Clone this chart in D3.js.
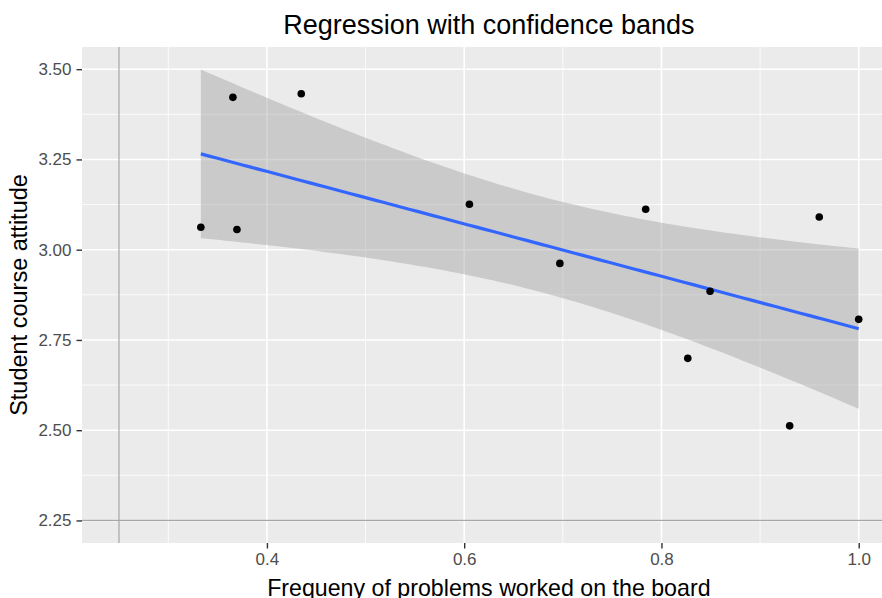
<!DOCTYPE html>
<html>
<head>
<meta charset="utf-8">
<script src="https://cdn.jsdelivr.net/npm/d3@7"></script>
<style>
  html, body { margin: 0; padding: 0; background: #fff; }
  svg { display: block; font-family: "Liberation Sans", Arial, sans-serif; }
</style>
</head>
<body>
<svg id="chart" width="882" height="598"></svg>
<script>
// Observations: share of problems worked on the board vs. course attitude
const boardFreq = [0.333, 0.3655, 0.3696, 0.4348, 0.6053, 0.697, 0.784, 0.8267, 0.8493, 0.930, 0.960, 1.000];
const attitude  = [3.062, 3.422, 3.056, 3.432, 3.126, 2.962, 3.112, 2.699, 2.885, 2.512, 3.0905, 2.807];

// Reference lines
const refX = [0.25];
const refY = [2.25];

// Axis ticks
const xTicks = [0.4, 0.6, 0.8, 1.0];
const xTickLabels = ["0.4", "0.6", "0.8", "1.0"];
const xMinorTicks = [0.3, 0.5, 0.7, 0.9];
const yTicks = [2.25, 2.50, 2.75, 3.00, 3.25, 3.50];
const yTickLabels = ["2.25", "2.50", "2.75", "3.00", "3.25", "3.50"];
const yMinorTicks = [2.375, 2.625, 2.875, 3.125, 3.375];

// Student t quantile for a 95% band with n - 2 = 10 degrees of freedom
const T_CRIT = 2.228139;

// ---- Ordinary least squares fit with pointwise confidence band ----
const n = boardFreq.length;
const mx = d3.mean(boardFreq), my = d3.mean(attitude);
let sxx = 0, sxy = 0;
for (let i = 0; i < n; i++) {
  sxx += (boardFreq[i] - mx) ** 2;
  sxy += (boardFreq[i] - mx) * (attitude[i] - my);
}
const slope = sxy / sxx;
const intercept = my - slope * mx;
let sse = 0;
for (let i = 0; i < n; i++) sse += (attitude[i] - (intercept + slope * boardFreq[i])) ** 2;
const sigma = Math.sqrt(sse / (n - 2));

const [x0, x1] = d3.extent(boardFreq);
const fit = d3.range(80).map(k => {
  const x = x0 + (x1 - x0) * k / 79;
  const yhat = intercept + slope * x;
  const se = sigma * Math.sqrt(1 / n + (x - mx) ** 2 / sxx);
  return { x, y: yhat, lo: yhat - T_CRIT * se, hi: yhat + T_CRIT * se };
});

// ---- Scales (5% expansion of the trained range) ----
function expand([a, b], f = 0.05) { const d = (b - a) * f; return [a - d, b + d]; }
const xDom = expand(d3.extent([...boardFreq, ...refX]));
const yDom = expand(d3.extent([...attitude, ...refY, ...fit.map(d => d.lo), ...fit.map(d => d.hi)]));

const panel = { left: 82, top: 47, right: 895.7, bottom: 543 };
const x = d3.scaleLinear().domain(xDom).range([panel.left, panel.right]);
const y = d3.scaleLinear().domain(yDom).range([panel.bottom, panel.top]);

const svg = d3.select("#chart");

// Panel background
svg.append("rect")
  .attr("x", panel.left).attr("y", panel.top)
  .attr("width", panel.right - panel.left).attr("height", panel.bottom - panel.top)
  .attr("fill", "#EBEBEB");

// Grid lines
const grid = svg.append("g");
grid.selectAll(".xminor").data(xMinorTicks).join("line")
  .attr("x1", d => x(d)).attr("x2", d => x(d))
  .attr("y1", panel.top).attr("y2", panel.bottom)
  .attr("stroke", "#fff").attr("stroke-width", 0.8);
grid.selectAll(".yminor").data(yMinorTicks).join("line")
  .attr("y1", d => y(d)).attr("y2", d => y(d))
  .attr("x1", panel.left).attr("x2", panel.right)
  .attr("stroke", "#fff").attr("stroke-width", 0.8);
grid.selectAll(".xmajor").data(xTicks).join("line")
  .attr("x1", d => x(d)).attr("x2", d => x(d))
  .attr("y1", panel.top).attr("y2", panel.bottom)
  .attr("stroke", "#fff").attr("stroke-width", 1.6);
grid.selectAll(".ymajor").data(yTicks).join("line")
  .attr("y1", d => y(d)).attr("y2", d => y(d))
  .attr("x1", panel.left).attr("x2", panel.right)
  .attr("stroke", "#fff").attr("stroke-width", 1.6);

// Reference lines
svg.selectAll(".vref").data(refX).join("line")
  .attr("x1", d => x(d)).attr("x2", d => x(d))
  .attr("y1", panel.top).attr("y2", panel.bottom)
  .attr("stroke", "#A6A6A6").attr("stroke-width", 1.2);
svg.selectAll(".href").data(refY).join("line")
  .attr("y1", d => y(d)).attr("y2", d => y(d))
  .attr("x1", panel.left).attr("x2", panel.right)
  .attr("stroke", "#A6A6A6").attr("stroke-width", 1.2);

// Confidence band
svg.append("path")
  .datum(fit)
  .attr("d", d3.area().x(d => x(d.x)).y0(d => y(d.lo)).y1(d => y(d.hi)))
  .attr("fill", "#999999").attr("fill-opacity", 0.4);

// Fitted line
svg.append("path")
  .datum(fit)
  .attr("d", d3.line().x(d => x(d.x)).y(d => y(d.y)))
  .attr("fill", "none").attr("stroke", "#3366FF").attr("stroke-width", 3.2);

// Points
svg.selectAll(".pt").data(d3.range(n)).join("circle")
  .attr("cx", i => x(boardFreq[i])).attr("cy", i => y(attitude[i]))
  .attr("r", 3.8).attr("fill", "#000");

// Axes
function styleAxis(g) {
  g.select(".domain").remove();
  g.selectAll(".tick line").attr("stroke", "#333333").attr("stroke-width", 1.4);
  g.selectAll(".tick text").attr("fill", "#4D4D4D").style("font-size", "17px")
    .attr("font-family", "Liberation Sans, Arial, sans-serif");
}
svg.append("g")
  .attr("transform", `translate(0,${panel.bottom})`)
  .call(d3.axisBottom(x).tickValues(xTicks).tickFormat((d, i) => xTickLabels[i])
    .tickSizeInner(5.5).tickSizeOuter(0).tickPadding(4))
  .call(styleAxis)
  .call(g => g.selectAll(".tick text").attr("dy", "0.71em"));
svg.append("g")
  .attr("transform", `translate(${panel.left},0)`)
  .call(d3.axisLeft(y).tickValues(yTicks).tickFormat((d, i) => yTickLabels[i])
    .tickSizeInner(5.5).tickSizeOuter(0).tickPadding(5))
  .call(styleAxis);

// Titles
svg.append("text")
  .attr("x", (panel.left + panel.right) / 2).attr("y", 34)
  .attr("text-anchor", "middle").attr("fill", "#000")
  .style("font-size", "27px")
  .text("Regression with confidence bands");
svg.append("text")
  .attr("x", (panel.left + panel.right) / 2).attr("y", 596)
  .attr("text-anchor", "middle").attr("fill", "#000")
  .style("font-size", "23.2px")
  .text("Frequeny of problems worked on the board");
svg.append("text")
  .attr("transform", `translate(27,${(panel.top + panel.bottom) / 2}) rotate(-90)`)
  .attr("text-anchor", "middle").attr("fill", "#000")
  .style("font-size", "23.5px")
  .text("Student course attitude");
</script>
</body>
</html>
